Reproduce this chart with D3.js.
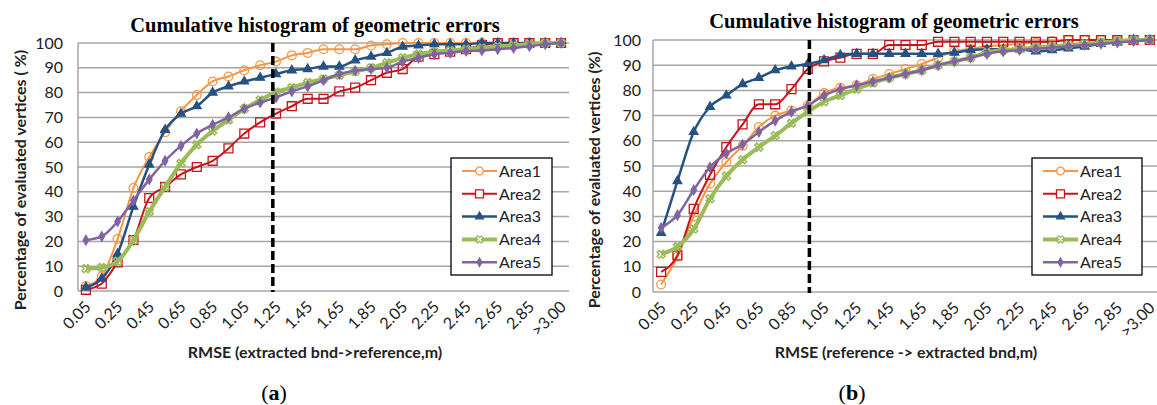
<!DOCTYPE html>
<html>
<head>
<meta charset="utf-8">
<script src="https://cdn.jsdelivr.net/npm/d3@7"></script>
<style>
  body { margin: 0; background: #fff; }
  svg { display: block; }
</style>
</head>
<body>
<div id="part"></div>
<script>

var categories = ["0.05","0.15","0.25","0.35","0.45","0.55","0.65","0.75","0.85","0.95",
  "1.05","1.15","1.25","1.35","1.45","1.55","1.65","1.75","1.85","1.95",
  "2.05","2.15","2.25","2.35","2.45","2.55","2.65","2.75","2.85","2.95",">3.00"];
var tickLabels = ["0.05","0.25","0.45","0.65","0.85","1.05","1.25","1.45","1.65","1.85",
  "2.05","2.25","2.45","2.65","2.85",">3.00"];
var yTicks = [0,10,20,30,40,50,60,70,80,90,100];
var seriesNames = ["Area1","Area2","Area3","Area4","Area5"];

// (a) extracted bnd -> reference
var a1 = [2,6,21,41.5,54,64,72.5,79,84.5,86.5,89,91,92.5,95,96,97.5,97.5,97.5,99,99.5,100,100,100,100,100,100,100,100,100,100,100];
var a2 = [0.5,3,11.5,20.5,37.5,42,47,50,52.5,57.5,63.5,68,71.5,74.5,77.5,77.5,80.5,82,85,88,89.5,94.5,95.5,96.5,97.5,99,100,100,100,100,100];
var a3 = [1.5,5,15,34,51,65,71.5,74.5,80,82.5,84.5,86,87.5,89,89.5,90.5,90.5,93,94.5,96,98.5,99,99.5,99.5,99.5,100,100,100,100,100,100];
var a4 = [9,9.5,12,20.5,32,42,51.5,59,64.5,69,73.5,77,80.2,82,84,85.5,87,88.5,90,92,94,95.5,96.5,97,97.5,98,98.5,99,99.5,100,100];
var a5 = [20.5,22,28,36.5,45,52.5,58.5,63.5,67,70,73.5,76,78,80.5,82.5,85,87.5,88.8,89.5,90,92.5,94,95.5,96,96.8,97,97.5,98,98.7,99.5,100];

// (b) reference -> extracted bnd
var b1 = [3,14,30,43,51.5,58,65.5,70,72,74,79,81,82,84.5,86.5,88.5,90.5,93,95.5,96.5,97.5,98,98.5,99,99.5,100,100,100,100,100,100];
var b2 = [8,14.5,33,46.5,57.5,66.5,74.5,74.5,80.5,88.5,91.5,93,94.5,94.5,98,98,98,99.3,99.3,99.3,99.3,99.3,99.3,99.3,99.3,100,100,100,100,100,100];
var b3 = [23.5,44,63.5,73.5,78,82.5,85,88,89.5,90.5,92,94,94.5,94.5,94.5,94.5,94.5,94.5,95,96,96.3,96.3,96.3,95.5,96,96.7,97.4,98.5,99,100,100];
var b4 = [15,18,25,37,46,52.5,57.5,62,67,71.5,75.5,78,80.5,83,85,86.5,88,90,91.5,93,95,96,96.5,97,97.5,98,98.5,99,99.5,100,100];
var b5 = [25.5,30.5,40.5,49.5,55,58.5,63.5,68,71.5,74,78,80.5,82,83.5,85,86.5,88,90,91.5,93,94.5,95.5,96,96.5,97,97.5,98,98.5,99,99.5,100];

// threshold (m) marked by the dashed line
var thresholdA = 1.23, thresholdB = 0.96;

var width = 1157, height = 405;

var svg = d3.select("#part").append("svg")
    .attr("width", width)
    .attr("height", height);

var styles = [
  {color: "#F79646", lw: 2,   sym: d3.symbolCircle,   size: 60, fill: "none", rot: 0},
  {color: "#C8141C", lw: 2,   sym: d3.symbolSquare,   size: 80, fill: "none", rot: 0},
  {color: "#255283", lw: 2.5, sym: d3.symbolTriangle, size: 32, fill: "#255283", rot: 0},
  {color: "#9BBB59", lw: 4,   sym: d3.symbolCross,    size: 40, fill: "none", rot: 45},
  {color: "#8064A2", lw: 2.5, sym: d3.symbolDiamond,  size: 26, fill: "#8064A2", rot: 0}
];

var sans = "Lato, 'Open Sans', sans-serif";
var serif = "'Liberation Serif', 'Times New Roman', serif";

function drawChart(opt) {
  var g = svg.append("g");

  var x = d3.scalePoint().domain(categories).range([opt.x0, opt.x1]).padding(0.5);
  var y = d3.scaleLinear().domain([0, 100]).range([opt.yBot, opt.yTop]);

  // gridlines
  g.selectAll(".grid").data(yTicks).enter().append("line")
    .attr("x1", opt.x0).attr("x2", opt.x1)
    .attr("y1", function(d){ return y(d); }).attr("y2", function(d){ return y(d); })
    .attr("stroke", "#a6a6a6").attr("stroke-width", 1.5);
  g.append("line")
    .attr("x1", opt.x0).attr("x2", opt.x0)
    .attr("y1", y(100)).attr("y2", y(0))
    .attr("stroke", "#a6a6a6").attr("stroke-width", 1.5);

  // y tick labels
  g.selectAll(".ylab").data(yTicks).enter().append("text")
    .attr("x", opt.x0 - opt.ygap).attr("y", function(d){ return y(d); })
    .attr("dy", "0.35em")
    .attr("text-anchor", "end")
    .style("font-family", sans).style("font-size", "16px").style("fill", "#222")
    .text(function(d){ return d; });

  // x tick labels
  g.selectAll(".xlab").data(tickLabels).enter().append("text")
    .attr("transform", function(d){ return "translate(" + (x(d) + 2) + "," + (opt.yBot + 13) + ") rotate(-45)"; })
    .attr("text-anchor", "end")
    .attr("dy", "0.35em")
    .style("font-family", sans).style("font-size", "16px").style("fill", "#222")
    .text(function(d){ return d; });

  // series
  opt.series.forEach(function(vals, k) {
    var s = styles[k];
    var line = d3.line()
      .x(function(d, i){ return x(categories[i]); })
      .y(function(d){ return y(d); })
      .curve(d3.curveMonotoneX);
    g.append("path").datum(vals)
      .attr("d", line)
      .attr("fill", "none")
      .attr("stroke", s.color)
      .attr("stroke-width", s.lw)
      .attr("stroke-linejoin", "round");
    g.selectAll(".m" + k).data(vals).enter().append("path")
      .attr("d", d3.symbol().type(s.sym).size(s.size))
      .attr("transform", function(d, i){ return "translate(" + x(categories[i]) + "," + y(d) + ") rotate(" + s.rot + ")"; })
      .attr("fill", s.fill === "none" ? "none" : s.fill)
      .attr("stroke", s.color)
      .attr("stroke-width", k === 3 ? 1.5 : 1.3);
  });

  // dashed threshold line
  var step = x.step();
  var tx = x(categories[0]) + (opt.threshold - 0.05) / 0.1 * step;
  g.append("line")
    .attr("x1", tx).attr("x2", tx)
    .attr("y1", y(100)).attr("y2", y(0) + 1)
    .attr("stroke", "#000").attr("stroke-width", 3.5)
    .attr("stroke-dasharray", "9,4");

  // legend
  var lg = g.append("g");
  lg.append("rect")
    .attr("x", opt.lx).attr("y", opt.ly).attr("width", opt.lw).attr("height", 117)
    .attr("fill", "#fff").attr("stroke", "#000").attr("stroke-width", 1.3);
  seriesNames.forEach(function(name, k) {
    var s = styles[k];
    var cy = opt.ly + 13 + k * 22.8;
    var lx1 = opt.lx + 11, lx2 = opt.lx + 46;
    lg.append("line")
      .attr("x1", lx1).attr("x2", lx2).attr("y1", cy).attr("y2", cy)
      .attr("stroke", s.color).attr("stroke-width", s.lw);
    lg.append("path")
      .attr("d", d3.symbol().type(s.sym).size(s.size * 0.8))
      .attr("transform", "translate(" + ((lx1 + lx2) / 2) + "," + cy + ") rotate(" + s.rot + ")")
      .attr("fill", s.fill === "none" ? "#fff" : s.fill)
      .attr("stroke", s.color).attr("stroke-width", 1.3);
    lg.append("text")
      .attr("x", lx2 + 2).attr("y", cy).attr("dy", "0.36em")
      .style("font-family", sans).style("font-size", "16px").style("fill", "#222")
      .text(name);
  });

  // titles
  g.append("text")
    .attr("x", opt.tx).attr("y", opt.ty)
    .attr("text-anchor", "middle")
    .style("font-family", serif).style("font-weight", "bold").style("font-size", "20.5px")
    .text("Cumulative histogram of geometric errors");

  g.append("text")
    .attr("transform", "translate(" + opt.ytx + "," + opt.yty + ") rotate(-90)")
    .attr("text-anchor", "middle")
    .attr("dy", "0.35em")
    .style("font-family", sans).style("font-weight", "bold").style("font-size", "16px").style("fill", "#222")
    .text(opt.ytitle);

  g.append("text")
    .attr("x", opt.xtx).attr("y", 358)
    .attr("text-anchor", "middle")
    .style("font-family", sans).style("font-weight", "bold").style("font-size", "16px").style("fill", "#222")
    .text(opt.xtitle);

  var sub = g.append("text")
    .attr("x", opt.subx).attr("y", 400)
    .attr("text-anchor", "middle")
    .style("font-family", serif).style("font-size", "22px");
  sub.append("tspan").text("(");
  sub.append("tspan").style("font-weight", "bold").text(opt.sub);
  sub.append("tspan").text(")");
}

drawChart({
  x0: 78, x1: 569, yTop: 43, yBot: 291, ygap: 15,
  series: [a1, a2, a3, a4, a5],
  threshold: thresholdA,
  lx: 451, ly: 158, lw: 101,
  tx: 315, ty: 32,
  ytx: 20, yty: 180, ytitle: "Percentage of evaluated vertices ( %)",
  xtx: 315, xtitle: "RMSE (extracted bnd->reference,m)",
  subx: 274, sub: "a"
});

drawChart({
  x0: 653, x1: 1158, yTop: 40, yBot: 292, ygap: 12,
  series: [b1, b2, b3, b4, b5],
  threshold: thresholdB,
  lx: 1032, ly: 158, lw: 110,
  tx: 894, ty: 28,
  ytx: 594, yty: 180, ytitle: "Percentage of evaluated vertices (%)",
  xtx: 906, xtitle: "RMSE (reference -> extracted bnd,m)",
  subx: 852, sub: "b"
});

</script>
</body>
</html>
